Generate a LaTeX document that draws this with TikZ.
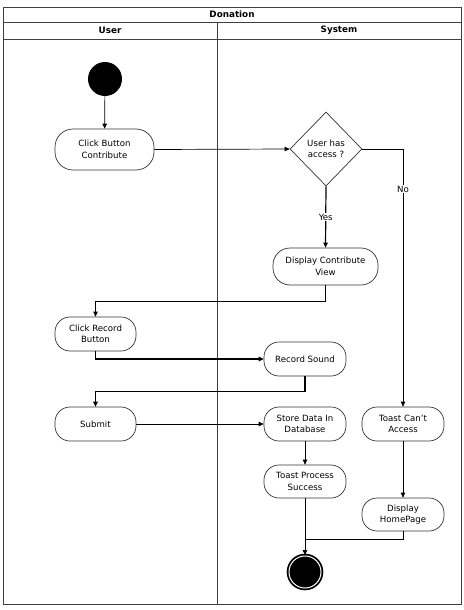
\documentclass[tikz,border=0pt]{standalone}
\usepackage{fontspec}
\setmainfont{DejaVu Sans}
\usetikzlibrary{arrows.meta,shapes.geometric,calc}
\begin{document}
\begin{tikzpicture}[x=1pt,y=-1pt,
  every node/.style={font=\fontsize{8.6}{11.5}\selectfont, align=center},
  frame/.style={draw=black!75, line width=0.8pt},
  act/.style={draw=black!80, line width=0.7pt, rounded corners=15pt, inner sep=1pt, fill=white},
  dec/.style={diamond, draw=black!80, line width=0.7pt, inner sep=0pt, minimum width=72pt, minimum height=74pt, fill=white},
  conn/.style={draw=black, line width=0.7pt, -{Triangle[length=5pt,width=4.5pt]}},
  thickconn/.style={draw=black, line width=1.2pt, -{Triangle[length=5pt,width=4.5pt]}},
  plain/.style={draw=black, line width=0.7pt},
  lbl/.style={fill=white, inner sep=1pt},
  hdr/.style={font=\fontsize{8.8}{10}\selectfont\bfseries}
]
\useasboundingbox (0,0) rectangle (463,610);
% frame
\draw[frame] (3,7) rectangle (461,604);
\draw[frame] (3,22) -- (461,22);
\draw[frame] (3,39) -- (461,39);
\draw[frame] (217,22) -- (217,604);
\node[hdr] (title) at (232,14.5) {Donation};
\node[hdr] (luser) at (110,30.5) {User};
\node[hdr] (lsys) at (339,30.5) {System};

% nodes
\node[circle, fill=black, minimum size=34pt, inner sep=0pt] (start) at (105,79) {};
\node[act, minimum width=99pt, minimum height=41pt, rounded corners=18pt] (cbc) at (104.5,149.5) {Click Button\\Contribute};
\node[dec] (dec) at (326,149) {User has\\access ?};
\node[act, minimum width=105pt, minimum height=37pt, rounded corners=17pt] (dcv) at (325.5,266.5) {Display Contribute\\View};
\node[act, minimum width=81pt, minimum height=34pt] (crb) at (95.5,334) {Click Record\\Button};
\node[act, minimum width=82pt, minimum height=34pt] (rs) at (305,359) {Record Sound};
\node[act, minimum width=81pt, minimum height=34pt] (sub) at (95.5,424) {Submit};
\node[act, minimum width=82pt, minimum height=34pt] (sd) at (305,424) {Store Data In\\Database};
\node[act, minimum width=82pt, minimum height=34pt] (tca) at (403,424) {Toast Can\char"27 t\\Access};
\node[act, minimum width=82pt, minimum height=33pt] (tps) at (305,481.5) {Toast Process\\Success};
\node[act, minimum width=82pt, minimum height=33pt] (dhp) at (403,514.5) {Display\\HomePage};
\node[circle, fill=black, draw=black, line width=1.8pt, double=white, double distance=1pt, minimum size=32pt, inner sep=0pt] (end) at (305,572) {};
\coordinate (join) at (305,539);

% connectors
\draw[conn] (start) -- (cbc);
\draw[conn] (cbc.east) -- (dec.west);
\draw[conn] (dec.east) -| (tca.north) node[lbl, pos=0.578] {No};
\draw[thickconn] (dec.south) -- (dcv.north) node[lbl, midway] {Yes};
\draw[conn] (dcv.south) -- ++(0,16) -| (crb.north);
\draw[thickconn] (crb.south) |- (rs.west);
\draw[thickconn] (rs.south) -- ++(0,15) -| (sub.north);
\draw[conn] (sub.east) -- (sd.west);
\draw[conn] (sd.south) -- (tps.north);
\draw[conn] (tca.south) -- (dhp.north);
\draw[conn] (tps.south) -- (end.north);
\draw[plain] (dhp.south) |- (join);
\end{tikzpicture}
\end{document}
